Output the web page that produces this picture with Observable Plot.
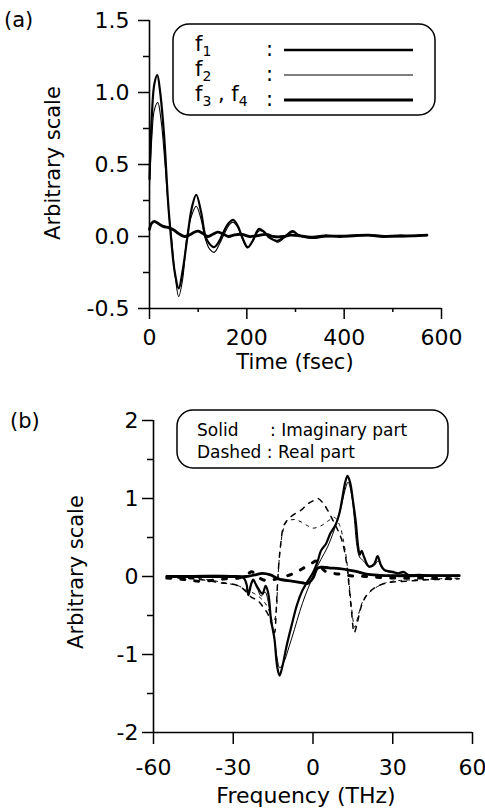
<!DOCTYPE html>
<html>
<head>
<meta charset="utf-8">
<script src="https://cdn.jsdelivr.net/npm/d3@7"></script>
<script src="https://cdn.jsdelivr.net/npm/@observablehq/plot@0.6"></script>
<style>
  html, body { margin: 0; padding: 0; background: #fff; }
  #wrap { position: relative; width: 485px; height: 809px; overflow: hidden; background: #fff; }
  .abs { position: absolute; left: 0; }
  svg text { font-family: "DejaVu Sans", sans-serif; }
</style>
</head>
<body>
<div id="wrap"></div>
<script>
// ---------- Panel (a): time domain ----------
const timeTicksMajor = [0, 200, 400, 600];
const timeTicksMinor = [100, 300, 500];
const ampTicksMajor = [-0.5, 0, 0.5, 1.0, 1.5];
const ampTicksMinor = [-0.25, 0.25, 0.75, 1.25];

const f1Time = [[0,0.4],[5,0.85],[10,1.06],[16,1.12],[22,1.0],[30,0.7],[38,0.25],[44,0.0],[52,-0.25],[60,-0.36],[68,-0.24],[78,0.0],[87,0.2],[96,0.29],[106,0.17],[115,0.0],[123,-0.05],[132,-0.074],[142,-0.04],[152,0.03],[162,0.09],[172,0.116],[182,0.07],[190,0.0],[202,-0.074],[212,-0.03],[225,0.053],[236,0.03],[247,-0.01],[263,-0.03],[278,0.0],[294,0.037],[306,0.01],[320,-0.005],[340,-0.01],[360,0.0],[400,0.005],[450,0.01],[500,0.0],[540,0.005],[570,0.01]];
const f2Time = [[0,0.35],[5,0.7],[10,0.88],[17,0.93],[24,0.8],[32,0.5],[40,0.15],[45,0.0],[52,-0.25],[60,-0.417],[68,-0.3],[77,0.0],[87,0.15],[96,0.21],[106,0.12],[115,-0.02],[124,-0.09],[133,-0.11],[144,-0.05],[154,0.02],[164,0.08],[172,0.1],[182,0.06],[190,-0.01],[201,-0.08],[212,-0.03],[226,0.04],[240,0.02],[250,-0.01],[264,-0.04],[280,0.0],[294,0.03],[306,0.01],[320,-0.005],[340,-0.01],[360,0.0],[400,0.005],[450,0.008],[500,0.0],[540,0.005],[570,0.01]];
const f34Time = [[0,0.05],[4,0.09],[10,0.105],[18,0.09],[28,0.07],[40,0.06],[50,0.045],[60,0.02],[72,0.0],[82,0.01],[92,0.03],[100,0.037],[110,0.02],[120,0.0],[130,0.015],[140,0.03],[150,0.02],[162,0.0],[175,0.012],[190,0.015],[205,0.0],[220,0.005],[240,0.015],[255,0.0],[275,0.0],[290,0.01],[310,0.005],[330,-0.005],[360,0.005],[390,0.0],[420,0.005],[450,0.01],[480,0.0],[510,0.005],[540,0.005],[570,0.01]];

// ---------- Panel (b): frequency domain ----------
const freqTicksMajor = [-60, -30, 0, 30, 60];
const specTicksMajor = [-2, -1, 0, 1, 2];
const specTicksMinor = [-1.5, -0.5, 0.5, 1.5];

const f1Imag = [[-55,0.0],[-40,0.0],[-28,0.0],[-26,-0.02],[-25,-0.1],[-24.3,-0.24],[-23.3,-0.1],[-22.5,-0.04],[-21.5,-0.1],[-20.5,-0.16],[-19,-0.22],[-17.8,-0.12],[-16.8,-0.22],[-15.8,-0.55],[-14.5,-0.8],[-13.5,-1.15],[-12.6,-1.27],[-11.5,-1.15],[-10,-0.9],[-8,-0.62],[-6,-0.36],[-4,-0.18],[-2,-0.06],[0,0.05],[1.8,0.2],[3,0.33],[4.9,0.42],[6.5,0.55],[8.6,0.67],[10,0.82],[11.1,1.02],[12.2,1.22],[13,1.29],[14,1.2],[15,0.98],[16.1,0.7],[17,0.38],[17.6,0.28],[18.3,0.33],[19.2,0.25],[21,0.13],[23,0.16],[24.3,0.26],[25.5,0.15],[27,0.08],[30,0.06],[32,0.04],[34,0.06],[36,0.02],[40,0.02],[45,0.01],[55,0.01]];
const f2Imag = [[-55,0.0],[-28,0.0],[-25.5,-0.05],[-24.5,-0.2],[-23.5,-0.12],[-22.5,-0.06],[-21,-0.15],[-19.5,-0.25],[-18,-0.2],[-17,-0.3],[-16,-0.5],[-14.5,-0.8],[-13.5,-1.05],[-12.5,-1.17],[-11,-1.1],[-9,-0.9],[-7,-0.68],[-5,-0.45],[-3,-0.25],[-1,-0.08],[0.5,0.05],[3,0.22],[5.5,0.38],[8,0.6],[10.5,0.88],[12,1.1],[13.2,1.21],[14.5,1.05],[15.5,0.76],[16.5,0.4],[17.5,0.25],[19,0.2],[21,0.12],[23,0.14],[24.5,0.2],[26,0.1],[28,0.06],[32,0.04],[36,0.02],[45,0.01],[55,0.01]];
const f34Imag = [[-55,0.0],[-30,0.0],[-25,0.0],[-22,0.02],[-19,0.04],[-16,0.02],[-13,-0.03],[-8,-0.06],[-4,-0.08],[-2,-0.09],[0,-0.02],[1.5,0.1],[3,0.12],[6,0.11],[10,0.1],[14,0.08],[17,0.06],[20,0.03],[25,0.015],[30,0.01],[40,0.01],[55,0.01]];
const f1Real = [[-55,-0.02],[-50,-0.02],[-45,-0.03],[-40,-0.05],[-35,-0.08],[-30,-0.1],[-27,-0.14],[-25,-0.2],[-23,-0.27],[-21,-0.3],[-19,-0.38],[-17,-0.48],[-15.5,-0.62],[-14.5,-0.72],[-13.8,-0.4],[-13.2,0.0],[-12.2,0.4],[-11,0.65],[-9.5,0.73],[-7,0.8],[-4.5,0.85],[-2,0.93],[0,0.97],[1.8,1.0],[4,0.93],[5.5,0.85],[7.5,0.72],[9.5,0.58],[11,0.45],[12.5,0.2],[13.5,-0.1],[14.5,-0.45],[15.5,-0.72],[16.5,-0.62],[18,-0.4],[20,-0.25],[23,-0.15],[26,-0.1],[30,-0.07],[35,-0.06],[45,-0.04],[55,-0.03]];
const f2Real = [[-55,-0.01],[-45,-0.02],[-38,-0.05],[-32,-0.09],[-28,-0.12],[-25,-0.18],[-22,-0.22],[-19,-0.3],[-17,-0.4],[-15,-0.58],[-14,-0.5],[-13.3,-0.1],[-12.5,0.3],[-11.5,0.55],[-10,0.7],[-7,0.73],[-4.5,0.7],[-2,0.65],[0,0.62],[3,0.65],[6,0.72],[8,0.76],[10,0.66],[11.5,0.45],[12.5,0.25],[13.5,-0.05],[14.5,-0.4],[15.7,-0.65],[17,-0.5],[19,-0.3],[22,-0.18],[26,-0.1],[30,-0.06],[40,-0.04],[55,-0.02]];
const f34Real = [[-55,-0.02],[-48,-0.04],[-43,-0.06],[-38,-0.05],[-33,-0.03],[-28,-0.02],[-25,0.02],[-23,0.06],[-21,0.0],[-18,-0.05],[-15,-0.04],[-12.6,-0.02],[-8,0.03],[-5,0.08],[-3,0.12],[0,0.18],[1.1,0.2],[3,0.12],[5,0.06],[9.9,0.03],[14,0.01],[20,0.0],[30,-0.02],[40,-0.02],[55,-0.03]];

const FONT = "DejaVu Sans";
const baseStyle = {fontFamily: FONT, fontSize: "22px", background: "transparent", color: "black", overflow: "visible"};
const toPts = (arr) => arr.map(([x, y]) => ({x, y}));

function line(arr, opts) {
  return Plot.line(toPts(arr), {x: "x", y: "y", curve: "catmull-rom", stroke: "black", ...opts});
}

const plotA = Plot.plot({
  width: 485, height: 370,
  marginLeft: 149, marginRight: 44, marginTop: 20, marginBottom: 62,
  style: baseStyle,
  x: {domain: [0, 600]},
  y: {domain: [-0.5, 1.5]},
  marks: [
    Plot.axisY({ticks: ampTicksMajor, tickSize: 11, tickPadding: 9, tickFormat: d => d.toFixed(1), strokeWidth: 1.5, label: null}),
    Plot.axisY({ticks: ampTicksMinor, tickSize: 6, tickFormat: () => "", strokeWidth: 1.5, label: null}),
    Plot.axisX({ticks: timeTicksMajor, tickSize: 11, tickPadding: 10, tickFormat: d => String(d), strokeWidth: 1.5, label: null}),
    Plot.axisX({ticks: timeTicksMinor, tickSize: 4, tickFormat: () => "", strokeWidth: 1.5, label: null}),
    Plot.ruleX([0], {y1: -0.5, y2: 1.5, strokeWidth: 1.6}),
    Plot.ruleY([-0.5], {x1: 0, x2: 600, strokeWidth: 1.6}),
    line(f2Time, {strokeWidth: 1.1}),
    line(f1Time, {strokeWidth: 2.2}),
    line(f34Time, {strokeWidth: 2.8})
  ]
});

const plotB = Plot.plot({
  width: 485, height: 439,
  marginLeft: 153, marginRight: 13, marginTop: 50, marginBottom: 77,
  style: baseStyle,
  x: {domain: [-60, 60]},
  y: {domain: [-2, 2]},
  marks: [
    Plot.axisY({ticks: specTicksMajor, tickSize: 11, tickPadding: 4, tickFormat: d => String(d), strokeWidth: 1.5, label: null}),
    Plot.axisY({ticks: specTicksMinor, tickSize: 6, tickFormat: () => "", strokeWidth: 1.5, label: null}),
    Plot.axisX({ticks: freqTicksMajor, tickSize: 12, tickPadding: 15, tickFormat: d => String(d), strokeWidth: 1.5, label: null}),
    Plot.ruleX([-60], {y1: -2, y2: 2, strokeWidth: 1.6}),
    Plot.ruleY([-2], {x1: -60, x2: 60, strokeWidth: 1.6}),
    line(f2Real, {strokeWidth: 1, strokeDasharray: "3,5"}),
    line(f1Real, {strokeWidth: 1.5, strokeDasharray: "5,6"}),
    line(f34Real, {strokeWidth: 3, strokeDasharray: "4,10"}),
    line(f2Imag, {strokeWidth: 1}),
    line(f1Imag, {strokeWidth: 2.2}),
    line(f34Imag, {strokeWidth: 2.8})
  ]
});

const wrap = document.getElementById("wrap");
const dA = document.createElement("div"); dA.className = "abs"; dA.style.top = "0px"; dA.appendChild(plotA); wrap.appendChild(dA);
const dB = document.createElement("div"); dB.className = "abs"; dB.style.top = "370px"; dB.appendChild(plotB); wrap.appendChild(dB);

// ---------- Overlay: panel labels, axis titles, legends ----------
const ov = d3.select(wrap).append("svg")
  .attr("width", 485).attr("height", 809)
  .style("position", "absolute").style("left", "0px").style("top", "0px")
  .attr("font-family", FONT);

ov.append("text").attr("x", 4).attr("y", 27).attr("font-size", 21).text("(a)");
ov.append("text").attr("x", 10).attr("y", 428).attr("font-size", 21).text("(b)");

function vtitle(cx, cy, s) {
  ov.append("text").attr("transform", `translate(${cx},${cy}) rotate(-90)`)
    .attr("text-anchor", "middle").attr("dy", "0.35em").attr("font-size", 21).text(s);
}
vtitle(53, 163, "Arbitrary scale");
vtitle(76, 572, "Arbitrary scale");
ov.append("text").attr("x", 295).attr("y", 369).attr("text-anchor", "middle").attr("font-size", 21).text("Time (fsec)");
ov.append("text").attr("x", 306).attr("y", 803).attr("text-anchor", "middle").attr("font-size", 22).text("Frequency (THz)");

// legend (a)
ov.append("rect").attr("x", 173).attr("y", 24).attr("width", 262).attr("height", 91).attr("rx", 16)
  .attr("fill", "none").attr("stroke", "black").attr("stroke-width", 1.5);
const legA = [
  {parts: [["f"], ["1", true]], y: 56, w: 2.5},
  {parts: [["f"], ["2", true]], y: 81, w: 1.1},
  {parts: [["f"], ["3", true], [" , f"], ["4", true]], y: 106, w: 3}
];
legA.forEach((d, i) => {
  const t = ov.append("text").attr("x", 195).attr("y", d.y).attr("font-size", 21);
  d.parts.forEach(([s, sub]) => {
    if (sub) t.append("tspan").attr("font-size", 14).attr("dy", 5).text(s);
    else t.append("tspan").attr("dy", t.selectAll("tspan").size() ? -5 : 0).text(s);
  });
  ov.append("text").attr("x", 266).attr("y", d.y).attr("font-size", 21).text(":");
  ov.append("line").attr("x1", 284).attr("x2", 413).attr("y1", d.y - 6 + (i === 0 ? 0 : 0)).attr("y2", d.y - 6)
    .attr("stroke", "black").attr("stroke-width", d.w);
});

// legend (b)
ov.append("rect").attr("x", 177).attr("y", 410).attr("width", 271).attr("height", 58).attr("rx", 16)
  .attr("fill", "none").attr("stroke", "black").attr("stroke-width", 1.5);
ov.append("text").attr("x", 197).attr("y", 436).attr("font-size", 17).text("Solid");
ov.append("text").attr("x", 270).attr("y", 436).attr("font-size", 17).text(": Imaginary part");
ov.append("text").attr("x", 197).attr("y", 458).attr("font-size", 17).text("Dashed : Real part");
</script>
</body>
</html>
